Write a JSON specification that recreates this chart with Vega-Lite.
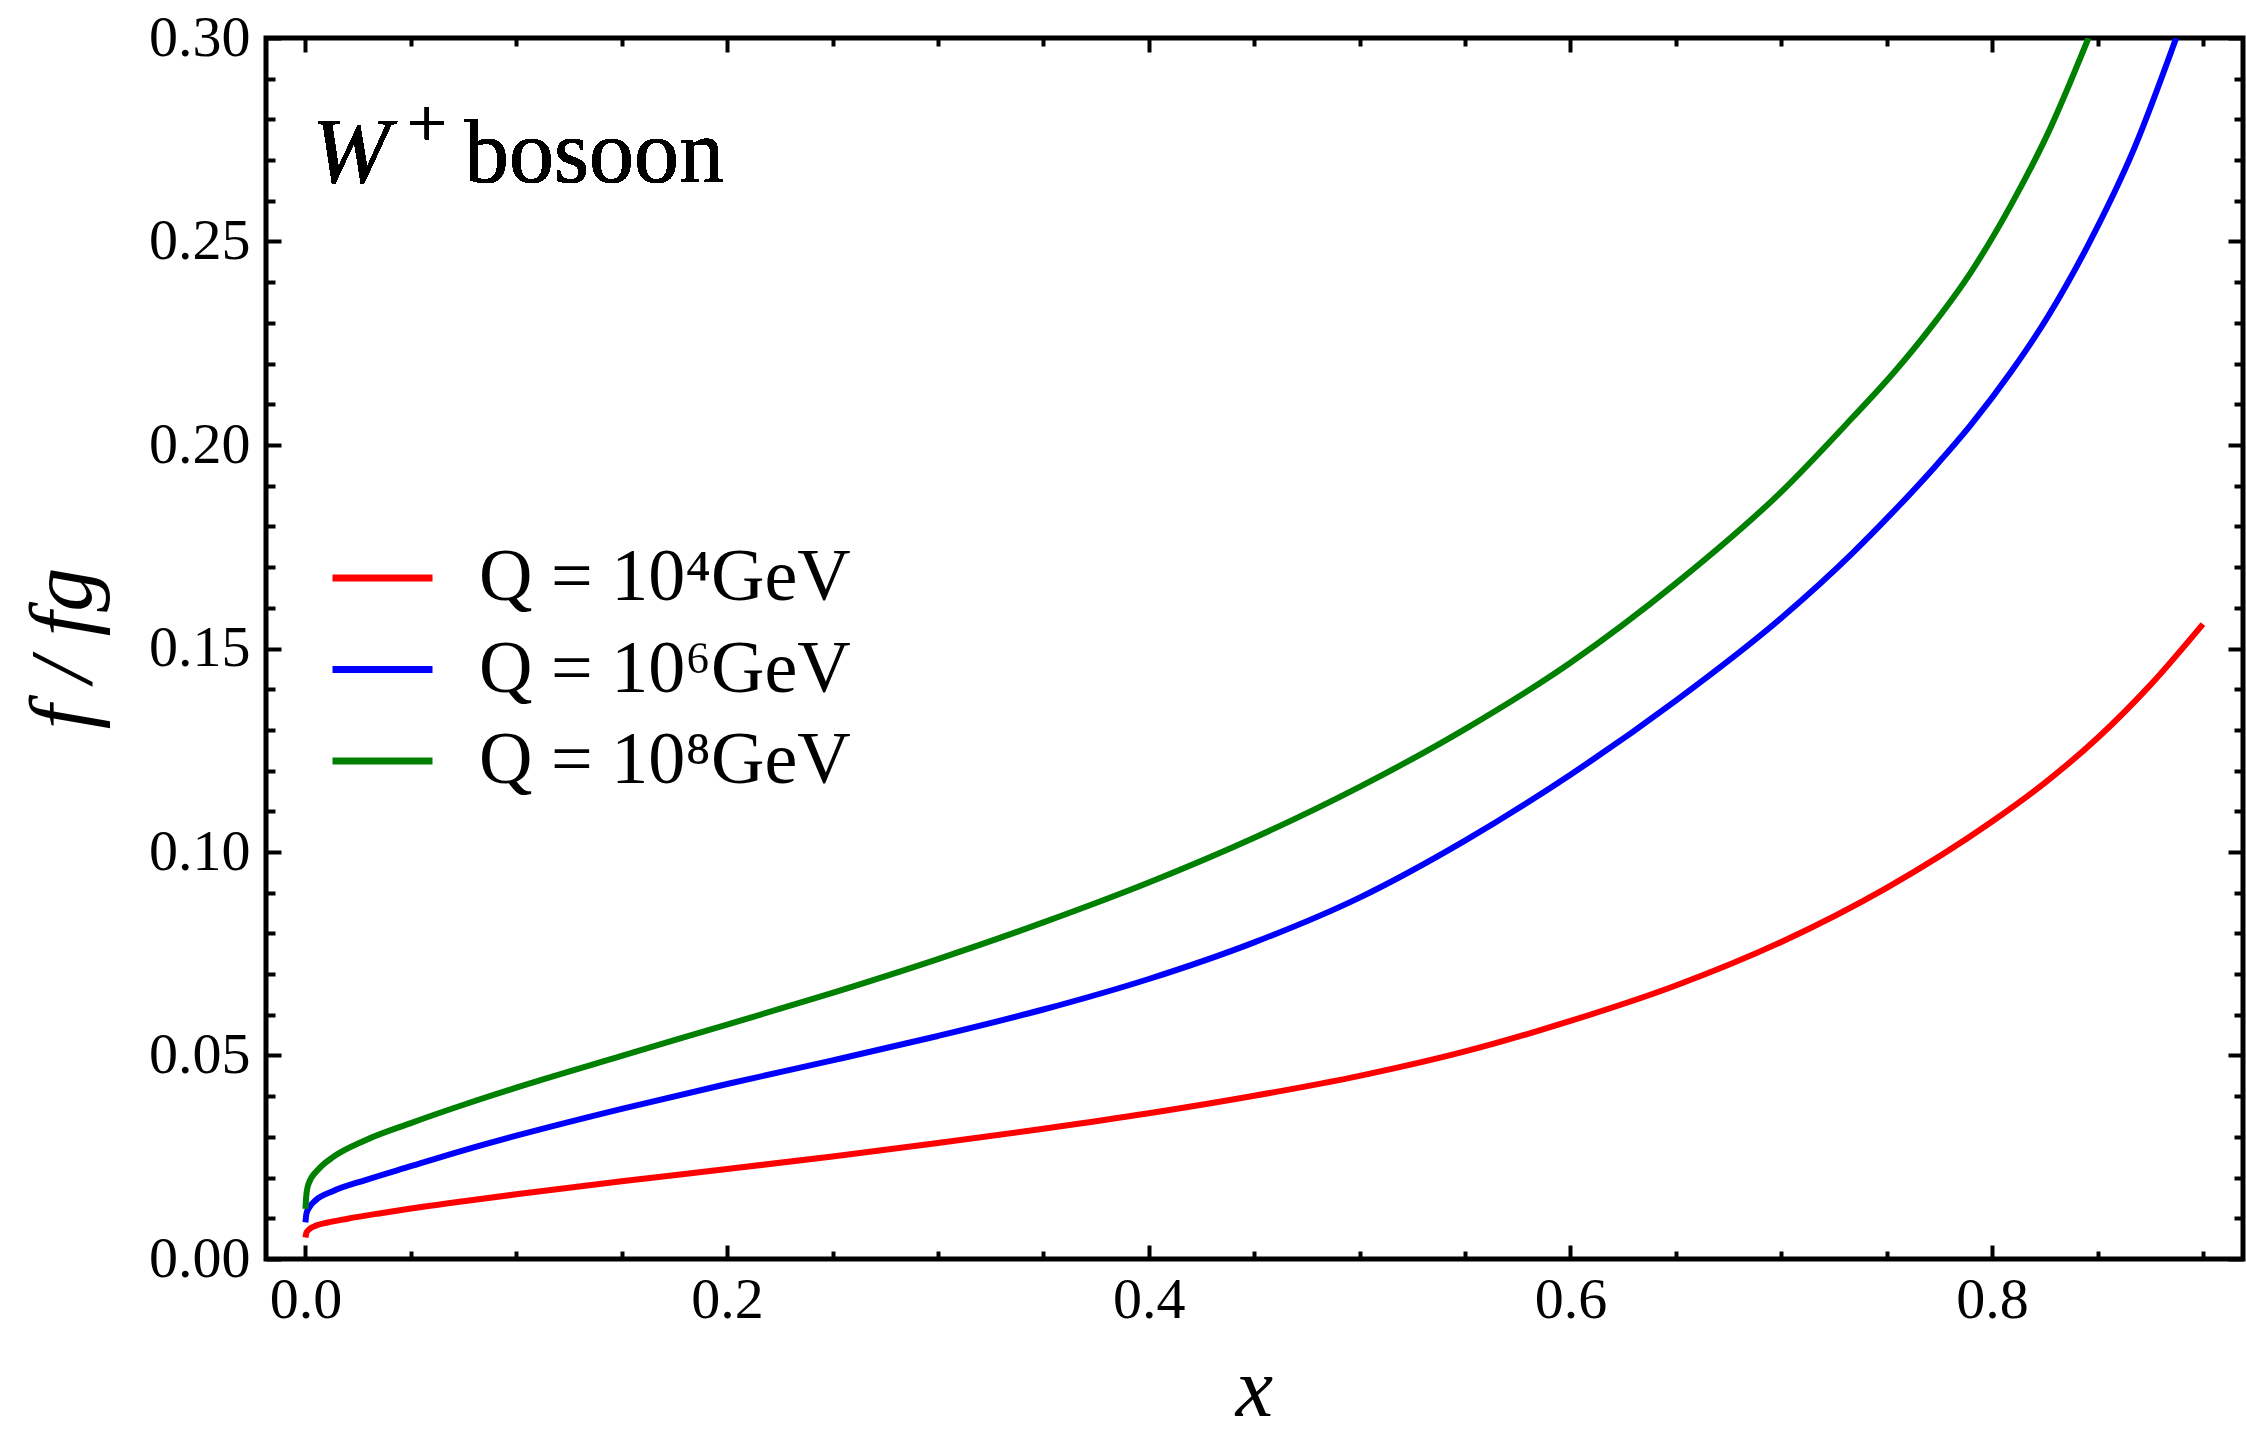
{
  "$schema": "https://vega.github.io/schema/vega-lite/v6.json",
  "width": 1977,
  "height": 1221,
  "autosize": {"type": "none"},
  "padding": {"left": 266, "top": 38, "right": 3, "bottom": 179},
  "background": "white",
  "config": {"view": {"stroke": "black", "strokeWidth": 5}, "font": "Liberation Serif"},
  "data": {"values": [
    {"x": 0, "f": 0.0053, "Q": "Q = 10⁴GeV"},
    {"x": 0.0005, "f": 0.0065, "Q": "Q = 10⁴GeV"},
    {"x": 0.002, "f": 0.0074, "Q": "Q = 10⁴GeV"},
    {"x": 0.005, "f": 0.0082, "Q": "Q = 10⁴GeV"},
    {"x": 0.01, "f": 0.0089, "Q": "Q = 10⁴GeV"},
    {"x": 0.02, "f": 0.0099, "Q": "Q = 10⁴GeV"},
    {"x": 0.035, "f": 0.0112, "Q": "Q = 10⁴GeV"},
    {"x": 0.05, "f": 0.0124, "Q": "Q = 10⁴GeV"},
    {"x": 0.075, "f": 0.0142, "Q": "Q = 10⁴GeV"},
    {"x": 0.1, "f": 0.0159, "Q": "Q = 10⁴GeV"},
    {"x": 0.15, "f": 0.0191, "Q": "Q = 10⁴GeV"},
    {"x": 0.2, "f": 0.0221, "Q": "Q = 10⁴GeV"},
    {"x": 0.25, "f": 0.0252, "Q": "Q = 10⁴GeV"},
    {"x": 0.3, "f": 0.0285, "Q": "Q = 10⁴GeV"},
    {"x": 0.35, "f": 0.032, "Q": "Q = 10⁴GeV"},
    {"x": 0.4, "f": 0.0358, "Q": "Q = 10⁴GeV"},
    {"x": 0.45, "f": 0.0401, "Q": "Q = 10⁴GeV"},
    {"x": 0.5, "f": 0.045, "Q": "Q = 10⁴GeV"},
    {"x": 0.55, "f": 0.051, "Q": "Q = 10⁴GeV"},
    {"x": 0.6, "f": 0.0585, "Q": "Q = 10⁴GeV"},
    {"x": 0.65, "f": 0.0672, "Q": "Q = 10⁴GeV"},
    {"x": 0.7, "f": 0.0779, "Q": "Q = 10⁴GeV"},
    {"x": 0.75, "f": 0.0912, "Q": "Q = 10⁴GeV"},
    {"x": 0.8, "f": 0.1075, "Q": "Q = 10⁴GeV"},
    {"x": 0.825, "f": 0.117, "Q": "Q = 10⁴GeV"},
    {"x": 0.85, "f": 0.128, "Q": "Q = 10⁴GeV"},
    {"x": 0.875, "f": 0.141, "Q": "Q = 10⁴GeV"},
    {"x": 0.9, "f": 0.156, "Q": "Q = 10⁴GeV"},
    {"x": 0, "f": 0.009, "Q": "Q = 10⁶GeV"},
    {"x": 0.0005, "f": 0.0112, "Q": "Q = 10⁶GeV"},
    {"x": 0.0016, "f": 0.0125, "Q": "Q = 10⁶GeV"},
    {"x": 0.005, "f": 0.0145, "Q": "Q = 10⁶GeV"},
    {"x": 0.0127, "f": 0.0166, "Q": "Q = 10⁶GeV"},
    {"x": 0.0285, "f": 0.0194, "Q": "Q = 10⁶GeV"},
    {"x": 0.05, "f": 0.0228, "Q": "Q = 10⁶GeV"},
    {"x": 0.075, "f": 0.0267, "Q": "Q = 10⁶GeV"},
    {"x": 0.1, "f": 0.0303, "Q": "Q = 10⁶GeV"},
    {"x": 0.15, "f": 0.0369, "Q": "Q = 10⁶GeV"},
    {"x": 0.2, "f": 0.043, "Q": "Q = 10⁶GeV"},
    {"x": 0.25, "f": 0.0488, "Q": "Q = 10⁶GeV"},
    {"x": 0.3, "f": 0.0548, "Q": "Q = 10⁶GeV"},
    {"x": 0.35, "f": 0.0613, "Q": "Q = 10⁶GeV"},
    {"x": 0.4, "f": 0.0688, "Q": "Q = 10⁶GeV"},
    {"x": 0.45, "f": 0.0778, "Q": "Q = 10⁶GeV"},
    {"x": 0.5, "f": 0.0888, "Q": "Q = 10⁶GeV"},
    {"x": 0.55, "f": 0.1028, "Q": "Q = 10⁶GeV"},
    {"x": 0.6, "f": 0.119, "Q": "Q = 10⁶GeV"},
    {"x": 0.65, "f": 0.1372, "Q": "Q = 10⁶GeV"},
    {"x": 0.7, "f": 0.1575, "Q": "Q = 10⁶GeV"},
    {"x": 0.7339, "f": 0.1735, "Q": "Q = 10⁶GeV"},
    {"x": 0.752, "f": 0.183, "Q": "Q = 10⁶GeV"},
    {"x": 0.7726, "f": 0.1945, "Q": "Q = 10⁶GeV"},
    {"x": 0.79, "f": 0.205, "Q": "Q = 10⁶GeV"},
    {"x": 0.809, "f": 0.218, "Q": "Q = 10⁶GeV"},
    {"x": 0.8264, "f": 0.2315, "Q": "Q = 10⁶GeV"},
    {"x": 0.8454, "f": 0.249, "Q": "Q = 10⁶GeV"},
    {"x": 0.8675, "f": 0.273, "Q": "Q = 10⁶GeV"},
    {"x": 0.8873, "f": 0.3, "Q": "Q = 10⁶GeV"},
    {"x": 0, "f": 0.0123, "Q": "Q = 10⁸GeV"},
    {"x": 0.0004, "f": 0.0155, "Q": "Q = 10⁸GeV"},
    {"x": 0.0015, "f": 0.0185, "Q": "Q = 10⁸GeV"},
    {"x": 0.0063, "f": 0.0221, "Q": "Q = 10⁸GeV"},
    {"x": 0.0127, "f": 0.0249, "Q": "Q = 10⁸GeV"},
    {"x": 0.0285, "f": 0.0292, "Q": "Q = 10⁸GeV"},
    {"x": 0.05, "f": 0.0334, "Q": "Q = 10⁸GeV"},
    {"x": 0.075, "f": 0.0379, "Q": "Q = 10⁸GeV"},
    {"x": 0.1, "f": 0.0421, "Q": "Q = 10⁸GeV"},
    {"x": 0.15, "f": 0.0499, "Q": "Q = 10⁸GeV"},
    {"x": 0.2, "f": 0.0576, "Q": "Q = 10⁸GeV"},
    {"x": 0.25, "f": 0.0654, "Q": "Q = 10⁸GeV"},
    {"x": 0.3, "f": 0.0737, "Q": "Q = 10⁸GeV"},
    {"x": 0.35, "f": 0.0827, "Q": "Q = 10⁸GeV"},
    {"x": 0.4, "f": 0.0925, "Q": "Q = 10⁸GeV"},
    {"x": 0.45, "f": 0.1035, "Q": "Q = 10⁸GeV"},
    {"x": 0.5, "f": 0.116, "Q": "Q = 10⁸GeV"},
    {"x": 0.55, "f": 0.1302, "Q": "Q = 10⁸GeV"},
    {"x": 0.6, "f": 0.1465, "Q": "Q = 10⁸GeV"},
    {"x": 0.65, "f": 0.166, "Q": "Q = 10⁸GeV"},
    {"x": 0.7, "f": 0.1885, "Q": "Q = 10⁸GeV"},
    {"x": 0.7339, "f": 0.2068, "Q": "Q = 10⁸GeV"},
    {"x": 0.7529, "f": 0.2175, "Q": "Q = 10⁸GeV"},
    {"x": 0.7726, "f": 0.23, "Q": "Q = 10⁸GeV"},
    {"x": 0.79, "f": 0.2425, "Q": "Q = 10⁸GeV"},
    {"x": 0.809, "f": 0.259, "Q": "Q = 10⁸GeV"},
    {"x": 0.8264, "f": 0.2765, "Q": "Q = 10⁸GeV"},
    {"x": 0.8457, "f": 0.3, "Q": "Q = 10⁸GeV"}
  ]},
  "resolve": {"axis": {"x": "independent", "y": "independent"}},
  "layer": [
    {
      "mark": {"type": "line", "strokeWidth": 6, "interpolate": "monotone", "clip": true},
      "encoding": {
        "x": {"field": "x", "type": "quantitative",
              "scale": {"domain": [-0.0187, 0.919], "nice": false, "zero": false},
              "axis": {"orient": "bottom", "values": [0, 0.2, 0.4, 0.6, 0.8], "format": ".1f",
                       "ticks": false, "domain": false, "grid": false,
                       "labelFont": "Liberation Serif", "labelFontSize": 58, "labelColor": "black",
                       "labelPadding": 12, "labelFlush": false, "labelOverlap": false,
                       "title": "x", "titleFont": "Liberation Serif", "titleFontSize": 84,
                       "titleFontStyle": "italic", "titleFontWeight": "normal", "titleColor": "black",
                       "titleX": 988, "titleY": 156, "titleBaseline": "alphabetic", "titleAlign": "center"}},
        "y": {"field": "f", "type": "quantitative",
              "scale": {"domain": [0, 0.3], "nice": false, "zero": false},
              "axis": {"orient": "left", "values": [0, 0.05, 0.1, 0.15, 0.2, 0.25, 0.3], "format": ".2f",
                       "ticks": false, "domain": false, "grid": false,
                       "labelFont": "Liberation Serif", "labelFontSize": 58, "labelColor": "black",
                       "labelPadding": 16, "labelFlush": false, "labelOverlap": false,
                       "title": "f / fg", "titleFont": "Liberation Serif", "titleFontSize": 88,
                       "titleFontStyle": "italic", "titleFontWeight": "normal", "titleColor": "black",
                       "titleAngle": -90, "titleX": -176, "titleY": 610,
                       "titleBaseline": "alphabetic", "titleAlign": "center"}},
        "color": {"field": "Q", "type": "nominal",
                  "scale": {"domain": ["Q = 10⁴GeV", "Q = 10⁶GeV", "Q = 10⁸GeV"],
                            "range": ["#ff0000", "#0000ff", "#008000"]},
                  "legend": {"orient": "none", "legendX": 63, "legendY": 503, "title": null,
                             "symbolType": "stroke", "symbolSize": 10000, "symbolStrokeWidth": 7,
                             "labelFont": "Liberation Serif", "labelFontSize": 74, "labelColor": "black",
                             "labelOffset": 43, "rowPadding": 17.5, "clipHeight": 74, "padding": 0,
                             "labelLimit": 0}}
      }
    },
    {
      "mark": {"type": "point", "opacity": 0},
      "encoding": {
        "x": {"field": "x", "type": "quantitative",
              "scale": {"domain": [-0.0187, 0.919], "nice": false, "zero": false},
              "axis": {"orient": "bottom", "values": [0, 0.2, 0.4, 0.6, 0.8], "labels": false,
                       "ticks": true, "tickSize": -14, "tickWidth": 4, "tickColor": "black",
                       "domain": false, "grid": false, "title": null}},
        "y": {"field": "f", "type": "quantitative",
              "scale": {"domain": [0, 0.3], "nice": false, "zero": false},
              "axis": {"orient": "left", "values": [0, 0.05, 0.1, 0.15, 0.2, 0.25, 0.3], "labels": false,
                       "ticks": true, "tickSize": -15, "tickWidth": 4, "tickColor": "black",
                       "domain": false, "grid": false, "title": null}}
      }
    },
    {
      "mark": {"type": "point", "opacity": 0},
      "encoding": {
        "x": {"field": "x", "type": "quantitative",
              "scale": {"domain": [-0.0187, 0.919], "nice": false, "zero": false},
              "axis": {"orient": "bottom", "values": [0.05, 0.1, 0.15, 0.25, 0.3, 0.35, 0.45, 0.5, 0.55, 0.65, 0.7, 0.75, 0.85, 0.9],
                       "labels": false, "ticks": true, "tickSize": -8, "tickWidth": 4, "tickColor": "black",
                       "domain": false, "grid": false, "title": null}},
        "y": {"field": "f", "type": "quantitative",
              "scale": {"domain": [0, 0.3], "nice": false, "zero": false},
              "axis": {"orient": "left", "values": [0.01, 0.02, 0.03, 0.04, 0.06, 0.07, 0.08, 0.09, 0.11, 0.12, 0.13, 0.14, 0.16, 0.17, 0.18, 0.19, 0.21, 0.22, 0.23, 0.24, 0.26, 0.27, 0.28, 0.29],
                       "labels": false, "ticks": true, "tickSize": -9, "tickWidth": 4, "tickColor": "black",
                       "domain": false, "grid": false, "title": null}}
      }
    },
    {
      "mark": {"type": "point", "opacity": 0},
      "encoding": {
        "x": {"field": "x", "type": "quantitative",
              "scale": {"domain": [-0.0187, 0.919], "nice": false, "zero": false},
              "axis": {"orient": "top", "values": [0, 0.2, 0.4, 0.6, 0.8], "labels": false,
                       "ticks": true, "tickSize": -14, "tickWidth": 4, "tickColor": "black",
                       "domain": false, "grid": false, "title": null}},
        "y": {"field": "f", "type": "quantitative",
              "scale": {"domain": [0, 0.3], "nice": false, "zero": false},
              "axis": {"orient": "right", "values": [0, 0.05, 0.1, 0.15, 0.2, 0.25, 0.3], "labels": false,
                       "ticks": true, "tickSize": -15, "tickWidth": 4, "tickColor": "black",
                       "domain": false, "grid": false, "title": null}}
      }
    },
    {
      "mark": {"type": "point", "opacity": 0},
      "encoding": {
        "x": {"field": "x", "type": "quantitative",
              "scale": {"domain": [-0.0187, 0.919], "nice": false, "zero": false},
              "axis": {"orient": "top", "values": [0.05, 0.1, 0.15, 0.25, 0.3, 0.35, 0.45, 0.5, 0.55, 0.65, 0.7, 0.75, 0.85, 0.9],
                       "labels": false, "ticks": true, "tickSize": -8, "tickWidth": 4, "tickColor": "black",
                       "domain": false, "grid": false, "title": null}},
        "y": {"field": "f", "type": "quantitative",
              "scale": {"domain": [0, 0.3], "nice": false, "zero": false},
              "axis": {"orient": "right", "values": [0.01, 0.02, 0.03, 0.04, 0.06, 0.07, 0.08, 0.09, 0.11, 0.12, 0.13, 0.14, 0.16, 0.17, 0.18, 0.19, 0.21, 0.22, 0.23, 0.24, 0.26, 0.27, 0.28, 0.29],
                       "labels": false, "ticks": true, "tickSize": -9, "tickWidth": 4, "tickColor": "black",
                       "domain": false, "grid": false, "title": null}}
      }
    },
    {
      "mark": {"type": "text", "text": "W", "font": "Liberation Serif", "fontSize": 94, "fontStyle": "italic",
               "align": "left", "baseline": "alphabetic", "color": "black"},
      "encoding": {
        "x": {"datum": 0.003, "type": "quantitative", "scale": {"domain": [-0.0187, 0.919], "nice": false, "zero": false}, "axis": null},
        "y": {"datum": 0.2646, "type": "quantitative", "scale": {"domain": [0, 0.3], "nice": false, "zero": false}, "axis": null}
      }
    },
    {
      "mark": {"type": "text", "text": "+", "font": "Liberation Serif", "fontSize": 70,
               "align": "center", "baseline": "alphabetic", "color": "black"},
      "encoding": {
        "x": {"datum": 0.0575, "type": "quantitative", "scale": {"domain": [-0.0187, 0.919], "nice": false, "zero": false}, "axis": null},
        "y": {"datum": 0.2731, "type": "quantitative", "scale": {"domain": [0, 0.3], "nice": false, "zero": false}, "axis": null}
      }
    },
    {
      "mark": {"type": "text", "text": "bosoon", "font": "Liberation Serif", "fontSize": 90,
               "align": "left", "baseline": "alphabetic", "color": "black"},
      "encoding": {
        "x": {"datum": 0.0752, "type": "quantitative", "scale": {"domain": [-0.0187, 0.919], "nice": false, "zero": false}, "axis": null},
        "y": {"datum": 0.2646, "type": "quantitative", "scale": {"domain": [0, 0.3], "nice": false, "zero": false}, "axis": null}
      }
    }
  ]
}
